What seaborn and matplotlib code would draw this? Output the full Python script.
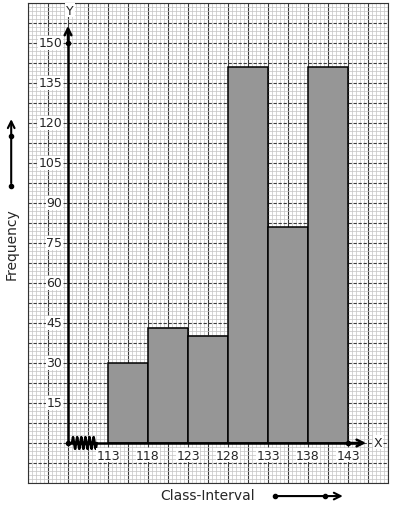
import numpy as np
import matplotlib
matplotlib.use("Agg")
import matplotlib.pyplot as plt
import seaborn as sns

# class intervals and frequencies
edges = [113, 118, 123, 128, 133, 138, 143]
freq = [30, 43, 40, 141, 81, 141]
y_ticks = [15, 30, 45, 60, 75, 90, 105, 120, 135, 150]

sns.set_style("white")
plt.rcParams['font.family'] = ['DejaVu Sans']

fig = plt.figure(figsize=(3.93, 5.10), dpi=100)
# graph paper area in pixels: x 28..388, y 4..484
ax = fig.add_axes([28 / 393, 26 / 510, 360 / 393, 480 / 510])
ax.set_xlim(103, 148)
ax.set_ylim(-15, 165)

# graph paper
ax.set_xticks(np.arange(103, 148.01, 2.5))
ax.set_yticks(np.arange(-15, 165.01, 7.5))
ax.set_xticks(np.arange(103, 148.01, 0.5), minor=True)
ax.set_yticks(np.arange(-15, 165.01, 1.5), minor=True)
ax.grid(which="minor", color="#c4c4c4", lw=0.5)
ax.grid(which="major", axis="x", color="#3a3a3a", lw=0.8)
ax.grid(which="major", axis="y", color="#3a3a3a", lw=0.8, ls=(0, (3, 1.5)))
ax.set_axisbelow(True)
ax.tick_params(which="both", length=0, labelbottom=False, labelleft=False)
for s in ax.spines.values():
    s.set_color("#333333")
    s.set_linewidth(0.8)

mids = [(a + b) / 2 for a, b in zip(edges[:-1], edges[1:])]
sns.histplot(x=mids, weights=freq, bins=edges, color="#969696", alpha=1,
             edgecolor="black", linewidth=1.1, ax=ax, zorder=3)
ax.set_xlabel("")
ax.set_ylabel("")

# axes with arrows
ax.plot([108, 108], [0, 155], color="black", lw=1.8, zorder=4)
ax.annotate("", xy=(108, 157.5), xytext=(108, 150),
            arrowprops=dict(arrowstyle="->", lw=1.8, color="black",
                            mutation_scale=12), zorder=4)
ax.plot([108, 144.5], [0, 0], color="black", lw=1.8, zorder=4)
ax.annotate("", xy=(145.6, 0), xytext=(143, 0),
            arrowprops=dict(arrowstyle="->", lw=1.8, color="black",
                            mutation_scale=12), zorder=4)
ax.plot([108, 108, 143], [0, 150, 0], "o", color="black", ms=3, zorder=5)
ax.text(108.25, 162.3, "Y", ha="center", va="center", fontsize=9,
        bbox=dict(fc="white", ec="none", pad=0.5), zorder=5)
ax.text(146.8, 0.3, "X", ha="center", va="center", fontsize=9,
        bbox=dict(fc="white", ec="none", pad=0.5), clip_on=False, zorder=5)

# break mark on x axis
zx = np.linspace(108.5, 111.6, 25)
zy = np.tile([0, 2.2, 0, -2.2], 7)[:25]
ax.plot(zx, zy, color="black", lw=1.8, zorder=5)

# tick labels
for v in y_ticks:
    ax.text(107.3, v, str(v), ha="right", va="center", fontsize=9,
            bbox=dict(fc="white", ec="none", pad=0.3), zorder=5)
for e in edges:
    ax.text(e, -4.6, str(e), ha="center", va="center", fontsize=9,
            bbox=dict(fc="white", ec="none", pad=0.3), zorder=5)

# axis titles with arrows outside the paper
ax.text(100.9, 75, "Frequency", rotation=90, ha="center", va="center",
        fontsize=10, clip_on=False)
ax.annotate("", xy=(100.9, 122.5), xytext=(100.9, 96.4),
            arrowprops=dict(arrowstyle="->", lw=1.5, color="black",
                            mutation_scale=12), annotation_clip=False)
ax.plot([100.9, 100.9], [96.4, 115.1], "o", color="black", ms=3,
        clip_on=False)
ax.text(125.5, -19.4, "Class-Interval", ha="center", va="center",
        fontsize=10, clip_on=False)
ax.annotate("", xy=(142.7, -19.9), xytext=(133.9, -19.9),
            arrowprops=dict(arrowstyle="->", lw=1.5, color="black",
                            mutation_scale=12), annotation_clip=False)
ax.plot([133.9, 140.1], [-19.9, -19.9], "o", color="black", ms=3,
        clip_on=False)

fig.savefig("out.png", dpi=100)
